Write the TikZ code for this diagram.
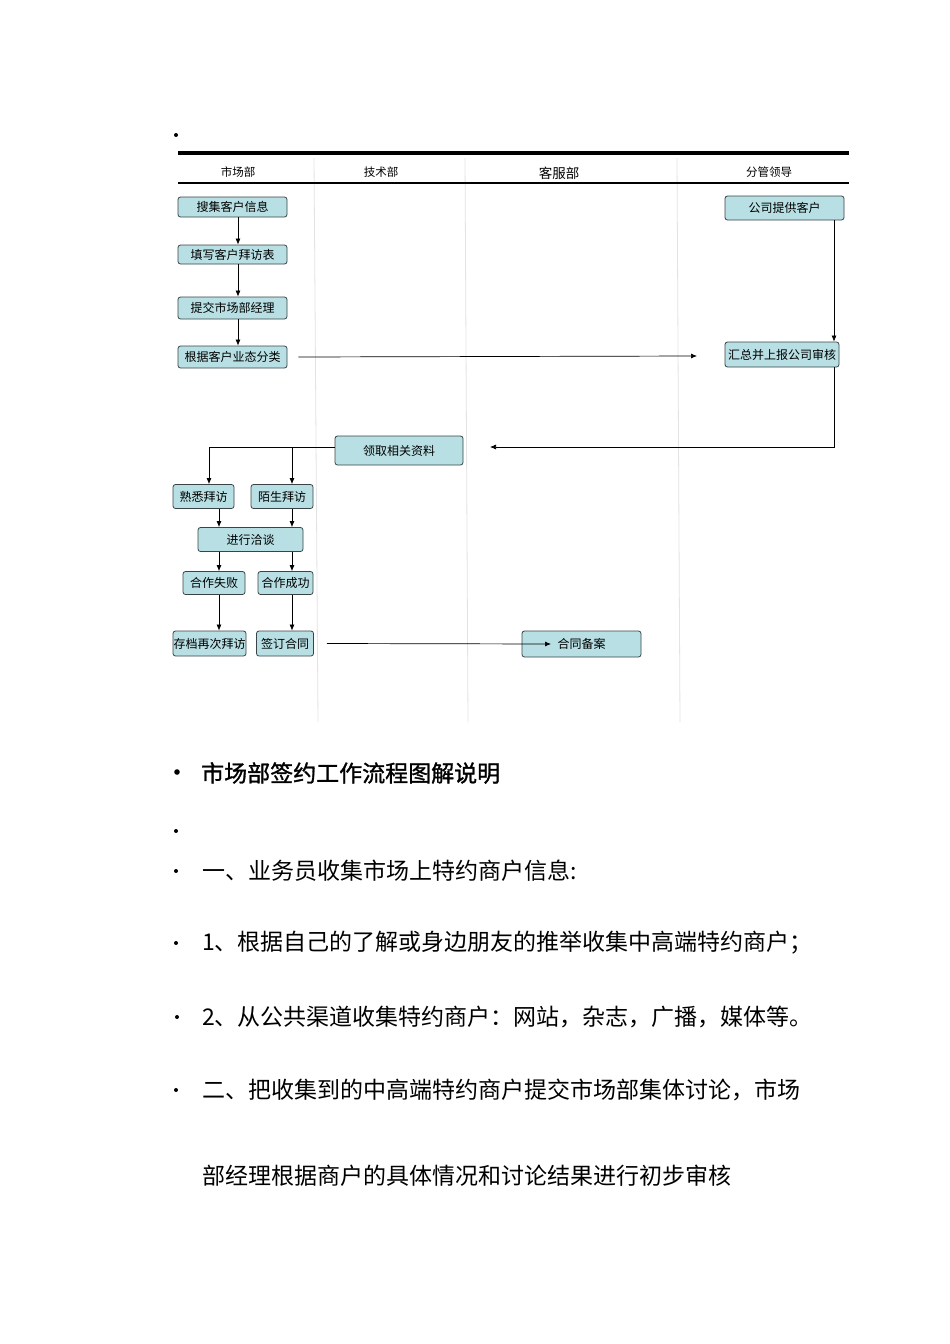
\documentclass[tikz,border=0pt]{standalone}
\usepackage{fontspec}
\setmainfont{Noto Sans CJK SC}
\newfontfamily\titlefont[FakeBold=1.2]{Noto Sans CJK SC}
\usetikzlibrary{arrows.meta}
\definecolor{boxfill}{HTML}{B8DFE3}
\definecolor{boxline}{HTML}{3A4446}
\begin{document}
\begin{tikzpicture}[x=1pt,y=-1pt,
  box/.style={draw=boxline,fill=boxfill,line width=0.8pt,rounded corners=2.5pt,inner sep=0pt,font=\fontsize{12}{13}\selectfont},
  arr/.style={-{Latex[length=6pt,width=5pt]},line width=0.7pt},
  lane/.style={draw=gray!22,line width=0.8pt},
  hdr/.style={font=\fontsize{11.5}{12}\selectfont},
  body/.style={anchor=west,inner sep=0pt,font=\fontsize{23}{24}\selectfont}]
\useasboundingbox (0,0) rectangle (950,1344);
\fill[white] (0,0) rectangle (950,1344);
% lanes
\draw[lane] (314,158) -- (318,722);
\draw[lane] (465,158) -- (468,722);
\draw[lane] (677,158) -- (680,722);
% header
\fill (176,135) circle (2);
\draw[line width=4pt] (178,153) -- (849,153);
\draw[line width=2pt] (178,183) -- (849,183);
\node[hdr] (h1) at (238,172) {市场部};
\node[hdr] (h2) at (381,172) {技术部};
\node[font=\fontsize{13.5}{14}\selectfont] (h3) at (559,173) {客服部};
\node[hdr] (h4) at (769,172) {分管领导};
% coordinates
\coordinate (xa) at (209,0);
\coordinate (xb) at (219,0);
\coordinate (xc) at (292,0);
\coordinate (xr) at (834,0);
\coordinate (hy) at (0,447);
\coordinate (c1) at (697,356);
\coordinate (c3) at (490,447);
\coordinate (c4) at (551,644);
% nodes
\node[box,minimum width=109pt,minimum height=20pt] (n1) at (232.5,207) {搜集客户信息};
\node[box,minimum width=109pt,minimum height=19pt] (n2) at (232.5,254.5) {填写客户拜访表};
\node[box,minimum width=109pt,minimum height=22pt] (n3) at (232.5,308) {提交市场部经理};
\node[box,minimum width=109pt,minimum height=22pt] (n4) at (232.5,357) {根据客户业态分类};
\node[box,minimum width=119pt,minimum height=24pt] (n5) at (784.5,208) {公司提供客户};
\node[box,minimum width=114pt,minimum height=25pt] (n6) at (782,354.5) {汇总并上报公司审核};
\node[box,minimum width=128pt,minimum height=29pt] (n7) at (399,450.5) {领取相关资料};
\node[box,minimum width=61pt,minimum height=24pt] (n8) at (203.5,496.5) {熟悉拜访};
\node[box,minimum width=62pt,minimum height=24pt] (n9) at (282,496.5) {陌生拜访};
\node[box,minimum width=105pt,minimum height=24pt] (n10) at (250.5,539.5) {进行洽谈};
\node[box,minimum width=62pt,minimum height=23pt] (n11) at (214,583) {合作失败};
\node[box,minimum width=55pt,minimum height=23pt] (n12) at (285.5,583) {合作成功};
\node[box,minimum width=73pt,minimum height=25pt] (n13) at (209.5,643.5) {存档再次拜访};
\node[box,minimum width=57pt,minimum height=25pt] (n14) at (285,643.5) {签订合同};
\node[box,minimum width=119pt,minimum height=26pt] (n15) at (581.5,644) {合同备案};
% connectors
\draw[arr] ([xshift=5.5pt]n1.south) -- ([xshift=5.5pt]n2.north);
\draw[arr] ([xshift=5.5pt]n2.south) -- ([xshift=5.5pt]n3.north);
\draw[arr] ([xshift=5.5pt]n3.south) -- ([xshift=5.5pt]n4.north);
\draw[arr] ([xshift=11pt]n4.east) -- (c1);
\draw[arr] (n5.south -| xr) -- (n6.north -| xr);
\draw[arr] (n6.south -| xr) |- (c3);
\draw[arr] (n7.west |- hy) -| (n8.north -| xa);
\draw[arr] (xc |- hy) -- (n9.north -| xc);
\draw[arr] (n8.south -| xb) -- (n10.north -| xb);
\draw[arr] (n9.south -| xc) -- (n10.north -| xc);
\draw[arr] (n10.south -| xb) -- (n11.north -| xb);
\draw[arr] (n10.south -| xc) -- (n12.north -| xc);
\draw[arr] (n11.south -| xb) -- (n13.north -| xb);
\draw[arr] (n12.south -| xc) -- (n14.north -| xc);
\draw[arr] ([xshift=13pt]n14.east) -- (c4);
% bottom text
\fill (177,772) circle (2.8);
\node[body,font=\fontsize{23}{24}\titlefont] (t0) at (201,773) {市场部签约工作流程图解说明};
\fill (176,831) circle (2);
\fill (176,871) circle (2);
\node[body] (t1) at (202,871) {一、业务员收集市场上特约商户信息:};
\fill (176,943) circle (2);
\node[body] (t2) at (202,943) {1、根据自己的了解或身边朋友的推举收集中高端特约商户；};
\fill (177,1017) circle (2);
\node[body] (t3) at (202,1017) {2、从公共渠道收集特约商户：网站，杂志，广播，媒体等。};
\fill (176,1090) circle (2);
\node[body] (t4) at (202,1090) {二、把收集到的中高端特约商户提交市场部集体讨论，市场};
\node[body] (t5) at (202,1176) {部经理根据商户的具体情况和讨论结果进行初步审核};
\end{tikzpicture}
\end{document}
